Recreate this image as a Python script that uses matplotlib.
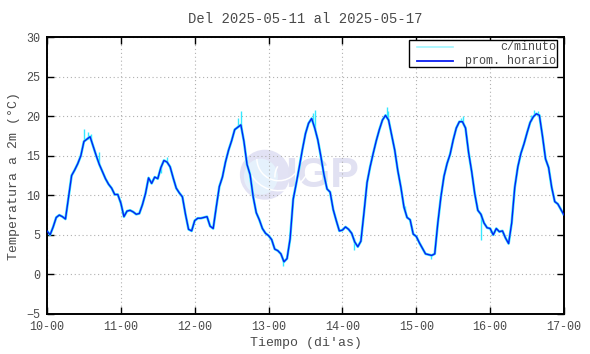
import numpy as np
import matplotlib
matplotlib.use('Agg')
import matplotlib.pyplot as plt
from matplotlib.patches import Ellipse, Rectangle, Arc
from matplotlib.lines import Line2D

# hourly mean temperature (degC), one list per day starting at hh=00
day_10 = [5.5, 5.0, 6.0, 7.2, 7.5, 7.3, 7.0, 9.8, 12.5, 13.2, 14.0, 15.0,
          16.8, 17.1, 17.4, 16.2, 15.0, 13.9, 13.0, 12.1, 11.4, 10.9, 10.1, 10.1]
day_11 = [9.0, 7.3, 8.0, 8.1, 7.9, 7.6, 7.7, 8.8, 10.2, 12.2, 11.5, 12.3,
          12.1, 13.5, 14.4, 14.2, 13.6, 12.2, 10.9, 10.3, 9.8, 7.6, 5.7, 5.5]
day_12 = [6.8, 7.1, 7.1, 7.2, 7.3, 6.1, 5.8, 8.5, 11.1, 12.3, 14.2, 15.7,
          16.9, 18.3, 18.6, 18.9, 16.8, 13.9, 12.6, 9.8, 7.8, 6.9, 5.8, 5.2]
day_13 = [4.9, 4.4, 3.2, 3.0, 2.6, 1.6, 2.0, 4.5, 9.5, 11.5, 13.6, 15.8,
          17.8, 19.1, 19.7, 18.5, 17.0, 14.9, 12.6, 10.8, 10.4, 8.2, 6.8, 5.5]
day_14 = [5.6, 6.0, 5.7, 5.2, 4.1, 3.5, 4.2, 7.8, 11.6, 13.6, 15.3, 16.9,
          18.3, 19.5, 20.1, 19.5, 17.6, 15.7, 13.1, 11.0, 8.5, 7.2, 6.9, 5.1]
day_15 = [4.8, 4.0, 3.3, 2.6, 2.5, 2.4, 2.6, 6.5, 9.8, 12.4, 14.0, 15.2,
          17.0, 18.5, 19.3, 19.3, 18.5, 15.4, 13.0, 10.2, 8.1, 7.6, 6.5, 5.9]
day_16 = [5.8, 5.0, 5.8, 5.4, 5.5, 4.6, 3.9, 6.5, 11.0, 13.6, 15.3, 16.5,
          17.9, 19.2, 19.9, 20.3, 20.1, 17.5, 14.6, 13.5, 11.0, 9.2, 8.9, 8.2,
          7.5]

# short excursions of the 1-minute record (days since 10-00, degC)
spike_t = [0.50, 0.55, 0.60, 0.70, 1.55, 1.62, 2.58, 2.63, 3.20, 3.60, 3.63,
           4.15, 4.60, 4.62, 4.85, 5.20, 5.60, 5.63, 5.82, 5.87, 6.55, 6.60,
           6.65]
spike_v = [18.4, 18.0, 17.8, 15.5, 12.8, 14.9, 19.8, 20.6, 1.1, 20.4, 20.8,
           3.1, 21.2, 20.7, 8.6, 1.9, 19.8, 20.0, 8.6, 4.4, 20.2, 20.8, 20.6]

day_labels = ['10-00', '11-00', '12-00', '13-00', '14-00', '15-00', '16-00', '17-00']

hourly = np.array(day_10 + day_11 + day_12 + day_13 + day_14 + day_15 + day_16)
t = np.arange(len(hourly)) / 24.0

plt.rcParams['font.family'] = ['Liberation Mono', 'DejaVu Sans Mono']
txt = '#4a4a4a'

fig = plt.figure(figsize=(5.9, 3.54), dpi=100)
ax = fig.add_axes([47 / 590, 40 / 354, 517 / 590, 277 / 354])
ax.set_xlim(0, 7)
ax.set_ylim(-5, 30)

# IGP watermark, sized in pixels so the disc stays round
px_x = 7 / 517
px_y = 35 / 277
cx, cy = 2.95, 12.6
ax.add_patch(Ellipse((cx, cy), 50 * px_x, 50 * px_y, facecolor='#e2e2f4',
                     edgecolor='none', zorder=0.5))
ax.add_patch(Ellipse((cx - 4 * px_x, cy - 2 * px_y), 34 * px_x, 36 * px_y,
                     facecolor='#e5f1fc', edgecolor='none', zorder=0.6))
for r in (22, 32):
    ax.add_patch(Arc((cx + 14 * px_x, cy + 16 * px_y), 2 * r * px_x, 2 * r * px_y,
                     theta1=185, theta2=290, color='white', lw=1.1, zorder=0.7))
ax.add_patch(Arc((cx + 30 * px_x, cy - 2 * px_y), 40 * px_x, 40 * px_y,
                 theta1=100, theta2=200, color='white', lw=1.1, zorder=0.7))
ax.text(3.73, 12.5, 'IGP', fontsize=31, fontweight='bold',
        family=['Liberation Sans', 'DejaVu Sans'],
        color='#e1e1f2', ha='center', va='center', zorder=0.5)

ax.plot(t, hourly, color='#35e8ff', lw=1.9, zorder=2, solid_joinstyle='round')
base = np.interp(spike_t, t, hourly)
ax.vlines(spike_t, base, spike_v, color='#35e8ff', lw=1.0, zorder=2)
ax.plot(t, hourly, color='#0a1ef0', lw=1.0, zorder=3)

ax.set_xticks(range(8))
ax.set_xticklabels(day_labels)
ax.set_yticks(range(-5, 31, 5))
ax.grid(True, color='#b0b0b0', ls=(0, (1, 2.5)), lw=0.8)
ax.tick_params(direction='in', length=5, width=1, top=True, right=True,
               labelsize=8.5, labelcolor=txt, pad=5)
for s in ax.spines.values():
    s.set_linewidth(1.4)

ax.set_xlabel("Tiempo (di'as)", fontsize=9.5, color=txt, labelpad=3)
ax.set_ylabel('Temperatura a 2m (°C)', fontsize=9.5, color=txt, labelpad=4)
ax.set_title('Del 2025-05-11 al 2025-05-17', fontsize=10, color=txt, pad=10)

# legend box in gnuplot style: sample left, text right-aligned
ax.add_patch(Rectangle((0.700, 0.892), 0.286, 0.097, transform=ax.transAxes,
                       facecolor='white', edgecolor='black', lw=1, zorder=5))
ax.add_line(Line2D([0.716, 0.785], [0.964, 0.964], transform=ax.transAxes,
                   color='#9ff6ff', lw=1.2, zorder=6))
ax.add_line(Line2D([0.716, 0.785], [0.914, 0.914], transform=ax.transAxes,
                   color='#0a1ef0', lw=1.3, zorder=6))
ax.text(0.985, 0.964, 'c/minuto', transform=ax.transAxes, ha='right', va='center',
        fontsize=8.5, color=txt, zorder=6)
ax.text(0.985, 0.914, 'prom. horario', transform=ax.transAxes, ha='right', va='center',
        fontsize=8.5, color=txt, zorder=6)

fig.savefig('out.png', dpi=100)
